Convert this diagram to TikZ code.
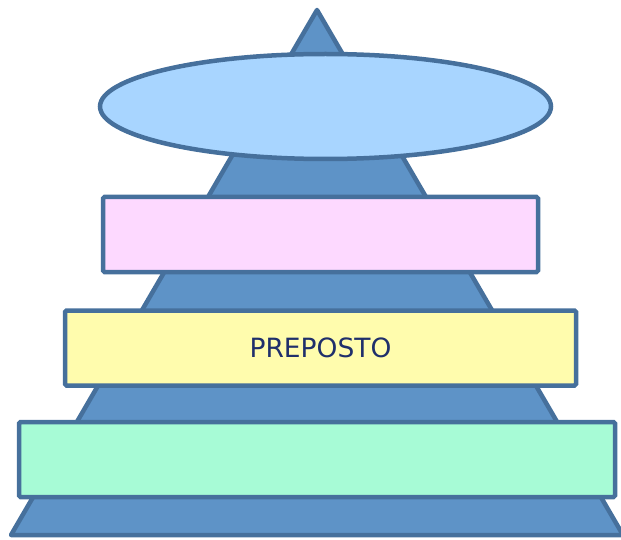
\documentclass[tikz,border=0pt]{standalone}
\usepackage{fontspec}
\setmainfont{DejaVu Sans}
\usetikzlibrary{shapes.geometric}
\usepackage{xcolor}

\definecolor{pyrfill}{HTML}{5E93C7}
\definecolor{pyrline}{HTML}{46709C}
\definecolor{topfill}{HTML}{A8D5FF}
\definecolor{pinkfill}{HTML}{FDD9FF}
\definecolor{yellowfill}{HTML}{FFFCAD}
\definecolor{greenfill}{HTML}{A7FBD6}
\definecolor{labeltext}{HTML}{1F2F6B}

\tikzset{
  layer/.style={draw=pyrline, line width=4.5, rounded corners=1.5, inner sep=0,
    minimum height=75, text=labeltext, font=\fontsize{26.5}{32}\selectfont},
}

\begin{document}
\begin{tikzpicture}[x=1pt, y=-1pt]
\useasboundingbox (0,0) rectangle (621,540);
% pyramid
\draw[pyrline, fill=pyrfill, line width=4.5, line join=round] (11,535)--(317,10)--(623,535)--cycle;
% top ellipse
\node[ellipse, draw=pyrline, fill=topfill, line width=4.5, inner sep=0,
  minimum width=451, minimum height=105] (apice) at (325.5,106.5) {};
% layers
\node[layer, fill=pinkfill, minimum width=435] (livello1) at (320.5,234.5) {};
\node[layer, fill=yellowfill, minimum width=511] (preposto) at (320.5,348) {PREPOSTO};
\node[layer, fill=greenfill, minimum width=596] (livello3) at (317,459.5) {};
\end{tikzpicture}
\end{document}
